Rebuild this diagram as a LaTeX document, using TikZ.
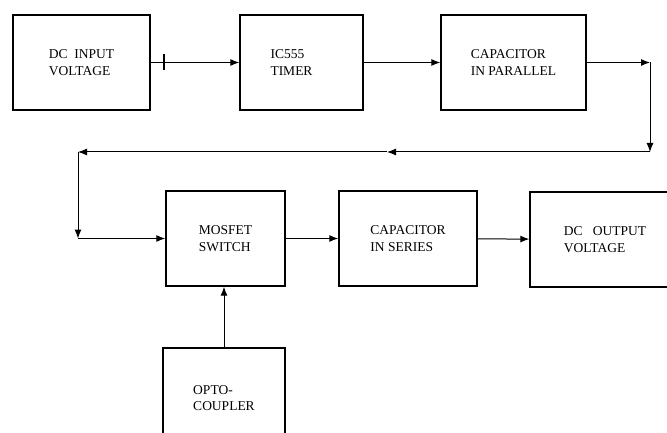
\documentclass[tikz,border=0pt]{standalone}
\usepackage{fontspec}
\setmainfont{Liberation Serif}
\usetikzlibrary{positioning,arrows.meta}

\begin{document}
\begin{tikzpicture}[x=1pt,y=-1pt,
    txt/.style={align=left,inner sep=0pt,font=\fontsize{13.5}{16.5}\selectfont},
    blk/.style={draw,line width=1.4pt,minimum width=#1,minimum height=95pt,txt},
    arr/.style={line width=1pt,-{Latex[length=9pt,width=7pt]}}]
    \useasboundingbox (0,0) rectangle (667,433);
    \clip (0,0) rectangle (667,433);
    % top row
    \node[blk=137pt] (dcin)   at (81.5,62.5)  {DC\ \ INPUT\\VOLTAGE};
    \node[blk=123pt,label={[txt,xshift=-10pt]center:IC555\\TIMER}] (timer) at (301.5,62.5) {};
    \node[blk=145pt] (cappar) at (513.5,62.5) {CAPACITOR\\IN PARALLEL};
    % bottom row
    \node[blk=119pt] (mosfet) at (225.5,238.5) {MOSFET\\SWITCH};
    \node[blk=138pt] (capser) at (408,238.5)   {CAPACITOR\\IN SERIES};
    \node[blk=150pt] (dcout)  at (605,239.5)   {DC\ \ \ OUTPUT\\VOLTAGE};
    \node[blk=122pt,minimum height=100pt] (opto) at (224,398) {OPTO-\\COUPLER};
    % return path
    \coordinate (tk) at (164,62.5);
    \coordinate (c1) at (650,62.5);
    \coordinate (c2) at (650,152);
    \coordinate (c3) at (387,152);
    \coordinate (c4) at (78,152);
    \coordinate (c5) at (78,238.5);
    \draw[arr] (dcin) -- (timer);
    \draw[line width=1.3pt] ([yshift=-8pt]tk) -- ([yshift=8pt]tk);
    \draw[arr] (timer) -- (cappar);
    \draw[arr] (cappar) -- (c1);
    \draw[arr] (c1) -- (c2);
    \draw[arr] (c2) -- (c3);
    \draw[arr] (c3) -- (c4);
    \draw[arr] (c4) -- (c5);
    \draw[arr] (c5) -- (mosfet);
    \draw[arr] (mosfet) -- (capser);
    \draw[arr] (capser) -- (dcout);
    \draw[arr] (opto) -- (opto |- mosfet.south);
\end{tikzpicture}
\end{document}
